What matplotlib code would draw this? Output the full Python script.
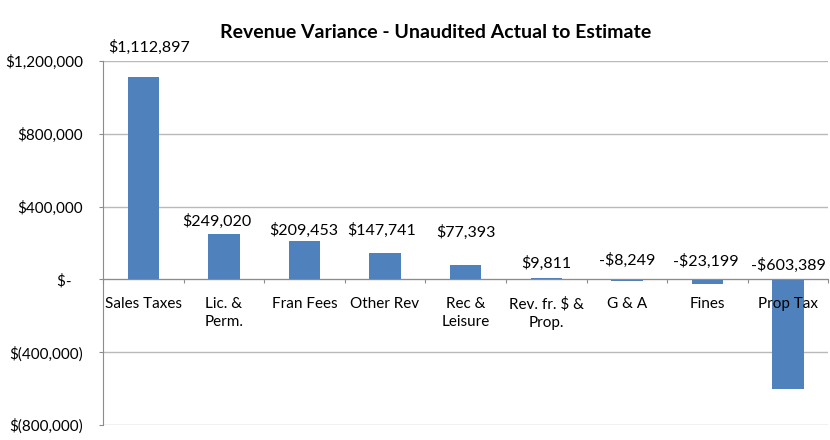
import matplotlib.pyplot as plt
from matplotlib.ticker import FuncFormatter, FixedLocator, NullFormatter
import numpy as np

# category names and variance values (actual - estimate)
categories = ['Sales Taxes', 'Lic. &\nPerm.', 'Fran Fees', 'Other Rev', 'Rec &\nLeisure',
              'Rev. fr. $ &\nProp.', 'G & A', 'Fines', 'Prop Tax']
variance = [1112897, 249020, 209453, 147741, 77393, 9811, -8249, -23199, -603389]

# label offsets (x, y) from bar end / zero line, in points (hand placed in original)
label_dx = [4.3, -4.7, -0.7, -2.5, 0, 0, 0, -1.4, 0]
label_dy = [21.6, 9.4, 7.9, 15.8, 23.7, 10, 13.7, 13, 10]

plt.rcParams['font.family'] = ['Lato', 'DejaVu Sans']

fig = plt.figure(figsize=(8.3, 4.4), dpi=100)
ax = fig.add_axes([0.124, 0.034, 0.874, 0.827])

x = np.arange(len(categories))
ax.bar(x, variance, width=0.39, color='#4F81BD', zorder=2)

ax.set_xlim(-0.5, len(categories) - 0.5)
ax.set_ylim(-800000, 1200000)
ax.set_yticks(np.arange(-800000, 1200001, 400000))


def money(v, pos=None):
    if v == 0:
        return '$-   '
    if v < 0:
        return '$({:,.0f})'.format(-v)
    return '${:,.0f}'.format(v)


ax.yaxis.set_major_formatter(FuncFormatter(money))
ax.grid(axis='y', color='#B9B9B9', lw=1, zorder=0)
ax.tick_params(axis='y', length=3, color='#8C8C8C', labelsize=11, pad=11.5)

# x axis sits on the zero line
ax.spines['bottom'].set_position(('data', 0))
for s in ['top', 'right']:
    ax.spines[s].set_visible(False)
ax.spines['left'].set_color('#8C8C8C')
ax.spines['bottom'].set_color('#8C8C8C')

ax.xaxis.set_major_locator(FixedLocator(np.arange(len(categories) + 1) - 0.5))
ax.xaxis.set_major_formatter(NullFormatter())
ax.tick_params(axis='x', which='major', length=3, color='#8C8C8C', direction='out')

# category names drawn as text so they sit on top of the negative bar
for i, name in enumerate(categories):
    ax.annotate(name, (i, 0), xytext=(0, -12.5), textcoords='offset points',
                ha='center', va='top', fontsize=11, linespacing=1.4, zorder=5)

for i, v in enumerate(variance):
    base = v if v > 0 else 0
    txt = '${:,.0f}'.format(v) if v >= 0 else '-${:,.0f}'.format(-v)
    ax.annotate(txt, (i, base), xytext=(label_dx[i], label_dy[i]), textcoords='offset points',
                ha='center', va='center', fontsize=11.5, zorder=5)

fig.text(0.525, 0.927, 'Revenue Variance - Unaudited Actual to Estimate',
         ha='center', va='center', fontsize=14, fontweight='bold')

fig.savefig('out.png', dpi=100)
